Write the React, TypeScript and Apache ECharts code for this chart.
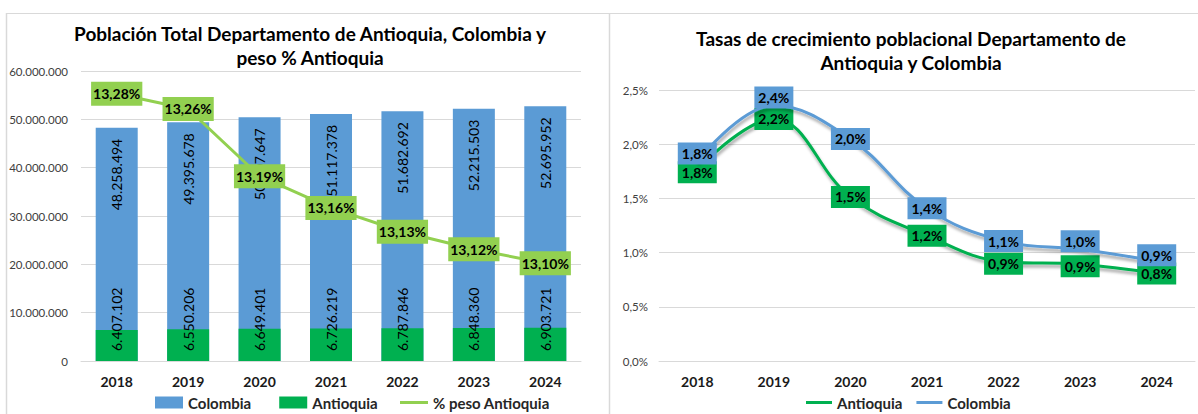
import { useEffect, useRef } from 'react';
import * as echarts from 'echarts';

const years = ['2018', '2019', '2020', '2021', '2022', '2023', '2024'];
const colombiaPop = [48258494, 49395678, 50407647, 51117378, 51682692, 52215503, 52695952];
const antioquiaPop = [6407102, 6550206, 6649401, 6726219, 6787846, 6848360, 6903721];
const pesoAntioquia = [13.2765, 13.2607, 13.1912, 13.1584, 13.1337, 13.1156, 13.1011];
const antioquiaRate = [1.77, 2.233, 1.514, 1.156, 0.916, 0.892, 0.808];
const colombiaRate = [1.84, 2.356, 2.049, 1.408, 1.106, 1.031, 0.92];
const colombiaRateLabelDy = [-8, -8, 0, 0, 0, -8, -6];
const antioquiaRateLabelDy = [3, 0, 0, 0, 2, 2, 0];

const FONT = 'Lato';
const BLUE = '#5B9BD5';
const GREEN = '#00B050';
const LIME = '#92D050';
const GRID = '#D9D9D9';

const dots = (v: number) => String(Math.round(v)).replace(/\B(?=(\d{3})+(?!\d))/g, '.');

export default function App() {
  const ref = useRef<HTMLDivElement>(null);
  useEffect(() => {
    if (!ref.current) return;
    const chart = echarts.init(ref.current, null, { renderer: 'svg' });
    const rateLabel = (bg: string) => ({
      show: true,
      position: 'inside',
      backgroundColor: bg,
      color: '#000',
      fontFamily: FONT,
      fontWeight: 'bold',
      fontSize: 14,
      lineHeight: 16,
      padding: [3, 4, 3, 4],
      formatter: (p: any) => p.value.toFixed(1).replace('.', ',') + '%',
    });
    const lineShadow = {
      shadowColor: 'rgba(0,0,0,0.35)',
      shadowBlur: 3,
      shadowOffsetX: 1,
      shadowOffsetY: 3,
    };
    const legendText = { fontFamily: FONT, fontWeight: 'bold', fontSize: 15, color: '#262626' };
    const titleText = { fontFamily: FONT, fontWeight: 'bold', fontSize: 19, lineHeight: 24, color: '#000' };
    chart.setOption({
      animation: false,
      backgroundColor: '#fff',
      title: [
        {
          text: 'Población Total Departamento de Antioquia, Colombia y\npeso % Antioquia',
          left: 310,
          top: 21,
          padding: 0,
          textAlign: 'center',
          textStyle: titleText,
        },
        {
          text: 'Tasas de crecimiento poblacional Departamento de\nAntioquia y Colombia',
          left: 911,
          top: 26,
          padding: 0,
          textAlign: 'center',
          textStyle: titleText,
        },
      ],
      legend: [
        {
          data: ['Colombia', 'Antioquia'],
          left: 155,
          top: 395,
          padding: 0,
          icon: 'rect',
          itemWidth: 28,
          itemHeight: 12,
          itemGap: 28,
          selectedMode: false,
          textStyle: legendText,
        },
        {
          data: ['% peso Antioquia'],
          left: 400,
          top: 395,
          padding: 0,
          icon: 'rect',
          itemWidth: 28,
          itemHeight: 3,
          selectedMode: false,
          textStyle: legendText,
        },
        {
          data: ['Antioquia', 'Colombia'],
          left: 806,
          top: 395,
          padding: 0,
          icon: 'rect',
          itemWidth: 26,
          itemHeight: 3,
          itemGap: 14,
          selectedMode: false,
          textStyle: legendText,
        },
      ],
      grid: [
        { left: 81, right: 1198 - 581, top: 71, bottom: 414 - 361 },
        { left: 659, right: 3, top: 90, bottom: 414 - 361 },
      ],
      xAxis: [
        {
          type: 'category',
          gridIndex: 0,
          data: years,
          axisLine: { lineStyle: { color: GRID } },
          axisTick: { show: false },
          axisLabel: { fontFamily: FONT, fontWeight: 'bold', fontSize: 14, color: '#1a1a1a', margin: 13 },
        },
        {
          type: 'category',
          gridIndex: 1,
          data: years,
          axisLine: { lineStyle: { color: GRID } },
          axisTick: { show: false },
          axisLabel: { fontFamily: FONT, fontWeight: 'bold', fontSize: 14, color: '#1a1a1a', margin: 13 },
        },
      ],
      yAxis: [
        {
          type: 'value',
          gridIndex: 0,
          min: 0,
          max: 60000000,
          interval: 10000000,
          axisLine: { show: false },
          axisTick: { show: false },
          splitLine: { lineStyle: { color: GRID } },
          axisLabel: { fontFamily: FONT, fontSize: 11.5, color: '#404040', margin: 13, formatter: (v: number) => dots(v) },
        },
        {
          type: 'value',
          gridIndex: 0,
          min: 13.0,
          max: 13.3,
          show: false,
          splitLine: { show: false },
        },
        {
          type: 'value',
          gridIndex: 1,
          min: 0,
          max: 2.5,
          interval: 0.5,
          axisLine: { show: false },
          axisTick: { show: false },
          splitLine: { lineStyle: { color: GRID } },
          axisLabel: {
            fontFamily: FONT,
            fontSize: 11.5,
            color: '#404040',
            margin: 11,
            formatter: (v: number) => v.toFixed(1).replace('.', ',') + '%',
          },
        },
      ],
      series: [
        {
          name: 'Colombia',
          type: 'bar',
          xAxisIndex: 0,
          yAxisIndex: 0,
          data: colombiaPop,
          barWidth: 42,
          barGap: '-100%',
          itemStyle: { color: BLUE },
          label: {
            show: true,
            position: 'insideTop',
            rotate: 90,
            align: 'right',
            verticalAlign: 'middle',
            distance: 11,
            fontFamily: FONT,
            fontSize: 14,
            color: '#000',
            formatter: (p: any) => dots(p.value),
          },
        },
        {
          name: 'Antioquia',
          type: 'bar',
          xAxisIndex: 0,
          yAxisIndex: 0,
          data: antioquiaPop,
          barWidth: 42,
          barGap: '-100%',
          itemStyle: { color: GREEN },
          label: {
            show: true,
            position: 'insideBottom',
            rotate: 90,
            align: 'left',
            verticalAlign: 'middle',
            distance: 10,
            fontFamily: FONT,
            fontSize: 14,
            color: '#000',
            formatter: (p: any) => dots(p.value),
          },
        },
        {
          name: '% peso Antioquia',
          type: 'line',
          xAxisIndex: 0,
          yAxisIndex: 1,
          data: pesoAntioquia,
          z: 5,
          symbol: 'circle',
          symbolSize: 2,
          itemStyle: { color: LIME },
          lineStyle: { color: LIME, width: 3 },
          label: {
            show: true,
            position: 'inside',
            backgroundColor: LIME,
            color: '#000',
            fontFamily: FONT,
            fontWeight: 'bold',
            fontSize: 14,
            lineHeight: 16,
            padding: [4, 2, 4, 2],
            formatter: (p: any) => p.value.toFixed(2).replace('.', ',') + '%',
          },
        },
        {
          name: 'Antioquia',
          type: 'line',
          xAxisIndex: 1,
          yAxisIndex: 2,
          smooth: 0.4,
          symbol: 'circle',
          symbolSize: 2,
          itemStyle: { color: GREEN },
          lineStyle: { color: GREEN, width: 3, ...lineShadow },
          data: antioquiaRate.map((v, i) => ({ value: v, label: { offset: [0, antioquiaRateLabelDy[i]] } })),
          label: rateLabel(GREEN),
          z: 4,
        },
        {
          name: 'Colombia',
          type: 'line',
          xAxisIndex: 1,
          yAxisIndex: 2,
          smooth: 0.4,
          symbol: 'circle',
          symbolSize: 2,
          itemStyle: { color: BLUE },
          lineStyle: { color: BLUE, width: 3, ...lineShadow },
          data: colombiaRate.map((v, i) => ({ value: v, label: { offset: [0, colombiaRateLabelDy[i]] } })),
          label: rateLabel(BLUE),
          z: 5,
        },
      ],
      graphic: [
        { type: 'line', shape: { x1: 6, y1: 13.5, x2: 1198, y2: 13.5 }, style: { stroke: GRID, lineWidth: 1 } },
        { type: 'line', shape: { x1: 6.5, y1: 13, x2: 6.5, y2: 414 }, style: { stroke: GRID, lineWidth: 1.5 } },
        { type: 'line', shape: { x1: 609.5, y1: 13, x2: 609.5, y2: 414 }, style: { stroke: GRID, lineWidth: 1.5 } },
      ],
    });
    return () => chart.dispose();
  }, []);
  return (
    <div
      ref={ref}
      style={{ position: 'fixed', left: 0, top: 0, width: 1198, height: 414, background: '#fff' }}
    />
  );
}
